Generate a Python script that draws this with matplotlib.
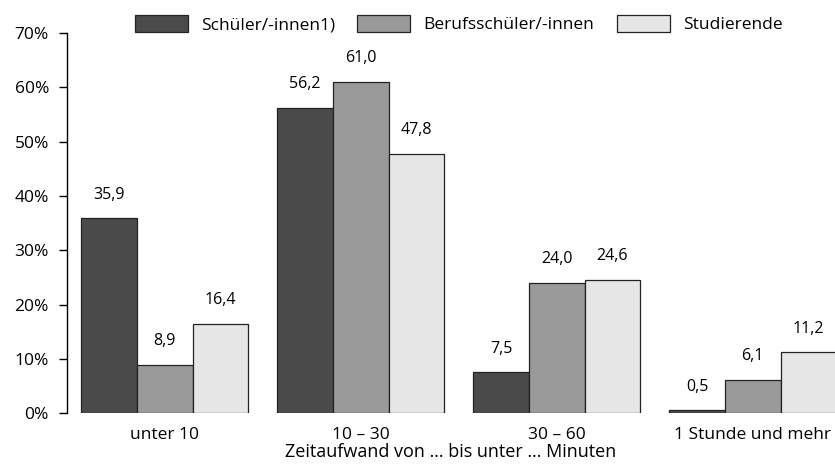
import matplotlib.pyplot as plt
import numpy as np

plt.rcParams["font.family"] = ["Open Sans", "DejaVu Sans"]

# Data
categories = ["unter 10", "10 – 30", "30 – 60", "1 Stunde und mehr"]
series_names = ["Schüler/-innen1)", "Berufsschüler/-innen", "Studierende"]
schueler = [35.9, 56.2, 7.5, 0.5]
berufsschueler = [8.9, 61.0, 24.0, 6.1]
studierende = [16.4, 47.8, 24.6, 11.2]
colors = ["#4b4b4b", "#9a9a9a", "#e6e6e6"]

fig = plt.figure(figsize=(8.35, 4.66), dpi=100)
ax = fig.add_axes([0.0802, 0.1137, 0.9198, 0.815])

x = np.arange(len(categories))
w = 0.284
handles = []
for i, (vals, name, c) in enumerate(zip([schueler, berufsschueler, studierende], series_names, colors)):
    pos = x + (i - 1) * w
    b = ax.bar(pos, vals, width=w, color=c, edgecolor="#222222", linewidth=0.9, label=name)
    handles.append(b)
    for px, v in zip(pos, vals):
        ax.text(px, v + 2.9, f"{v:.1f}".replace(".", ","), ha="center", va="bottom", fontsize=11.5)

ax.set_xlim(-0.5, 3.42)
ax.set_ylim(0, 70)
ax.set_yticks(range(0, 71, 10))
ax.set_yticklabels([f"{t}%" for t in range(0, 71, 10)], fontsize=12.5)
ax.set_xticks(x)
ax.set_xticklabels(categories, fontsize=12.5)
ax.tick_params(axis="x", length=0, pad=10)
ax.tick_params(axis="y", length=6, width=1, pad=7)
for s in ["top", "right", "bottom"]:
    ax.spines[s].set_visible(False)
ax.spines["left"].set_linewidth(1)
ax.set_xlabel("Zeitaufwand von … bis unter … Minuten", fontsize=13, labelpad=0)

fig.legend(handles=handles, labels=series_names, loc="center", bbox_to_anchor=(0.549, 0.948),
           ncol=3, frameon=False, fontsize=12.5, handlelength=3.05, handleheight=1.15,
           columnspacing=1.3, handletextpad=0.75)

fig.savefig("out.png", dpi=100)
